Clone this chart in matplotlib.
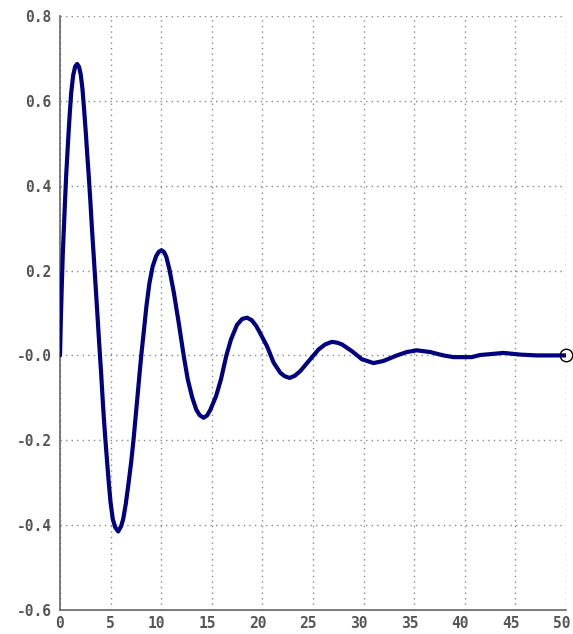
import matplotlib
matplotlib.use("Agg")
import matplotlib.pyplot as plt
from matplotlib.transforms import ScaledTranslation

# damped response, sampled along the trace
t = [0.0, 0.08, 0.17, 0.27, 0.38, 0.49, 0.61, 0.72, 0.83, 0.97, 1.11, 1.30, 1.50, 1.70,
     1.88, 2.05, 2.22, 2.38, 2.55, 2.70, 2.85, 3.01, 3.16, 3.33, 3.53, 3.70, 3.83, 3.95,
     4.06, 4.17, 4.32, 4.49, 4.66, 4.82, 4.99, 5.21, 5.45, 5.75, 6.05, 6.25, 6.50, 6.78,
     7.03, 7.26, 7.48, 7.69, 7.90, 8.03, 8.30, 8.55, 8.84, 9.16, 9.50, 9.75, 10.02,
     10.27, 10.51, 10.82, 11.25, 11.73, 12.22, 12.62, 13.05, 13.47, 13.80, 14.20,
     14.55, 14.86, 15.42, 15.91, 16.44, 16.90, 17.49, 18.00, 18.48, 18.95, 19.40,
     19.79, 20.45, 21.11, 21.77, 22.20, 22.69, 23.20, 23.74, 24.73, 25.55, 26.20,
     26.87, 27.40, 27.86, 28.85, 29.83, 30.98, 31.96, 33.29, 34.27, 35.26, 36.57,
     37.89, 38.87, 40.69, 41.51, 42.50, 43.81, 45.46, 47.11, 50.0]
y = [0.0, 0.080, 0.160, 0.235, 0.298, 0.360, 0.424, 0.471, 0.518, 0.572, 0.620, 0.660, 0.681, 0.687,
     0.680, 0.662, 0.628, 0.580, 0.525, 0.471, 0.420, 0.360, 0.298, 0.235, 0.160, 0.095, 0.045, 0.0,
     -0.040, -0.085, -0.143, -0.200, -0.252, -0.300, -0.345, -0.385, -0.405, -0.415, -0.402, -0.385,
     -0.350, -0.300, -0.252, -0.200, -0.143, -0.088, -0.033, 0.0, 0.061, 0.118, 0.171, 0.210,
     0.234, 0.244, 0.248, 0.244, 0.232, 0.202, 0.148, 0.077, 0.0, -0.056, -0.098, -0.128,
     -0.141, -0.147, -0.141, -0.128, -0.096, -0.056, 0.0, 0.038, 0.072, 0.086, 0.089, 0.083,
     0.069, 0.052, 0.022, -0.017, -0.041, -0.049, -0.053, -0.048, -0.037, -0.009, 0.014,
     0.026, 0.032, 0.030, 0.026, 0.010, -0.009, -0.018, -0.013, 0.0, 0.008, 0.012, 0.008,
     0.0, -0.004, -0.004, 0.001, 0.003, 0.006, 0.002, 0.0, 0.0]

x_ticks = [0, 5, 10, 15, 20, 25, 30, 35, 40, 45, 50]
y_ticks = [0.8, 0.6, 0.4, 0.2, 0.0, -0.2, -0.4, -0.6]
y_tick_labels = ["0.8", "0.6", "0.4", "0.2", "-0.0", "-0.2", "-0.4", "-0.6"]

TEXT_GRAY = "#555555"
LINE_BLUE = "#000080"

fig = plt.figure(figsize=(5.73, 6.34), dpi=100)
ax = fig.add_axes([60 / 573, 1 - 610 / 634, 506 / 573, 594 / 634])

ax.plot(t, y, color=LINE_BLUE, lw=3, solid_joinstyle="round", solid_capstyle="round", zorder=3)
ax.plot(t[-1], y[-1], "o", mfc="none", mec="black", ms=9, mew=1.0, clip_on=False, zorder=4)

ax.set_xlim(0, 50)
ax.set_ylim(-0.6, 0.8)
ax.set_xticks(x_ticks)
ax.set_yticks(y_ticks)
ax.set_yticklabels(y_tick_labels)
ax.grid(True, color="#888888", lw=1.0, linestyle=(0, (1, 3)))

for side in ("top", "right"):
    ax.spines[side].set_visible(False)
for side in ("left", "bottom"):
    ax.spines[side].set_color("#666666")
    ax.spines[side].set_linewidth(1.2)

ax.tick_params(length=0, labelcolor=TEXT_GRAY, labelsize=10.5)
ax.tick_params(axis="x", pad=4)
ax.tick_params(axis="y", pad=6)
for lab in ax.get_xticklabels() + ax.get_yticklabels():
    lab.set_fontfamily("DejaVu Sans Mono")
    lab.set_fontweight("bold")
# x labels sit just left of their grid line
shift = ScaledTranslation(4 / 100, 0, fig.dpi_scale_trans)
for lab in ax.get_xticklabels():
    lab.set_horizontalalignment("right")
    lab.set_transform(lab.get_transform() + shift)

fig.savefig("out.png", dpi=100)
